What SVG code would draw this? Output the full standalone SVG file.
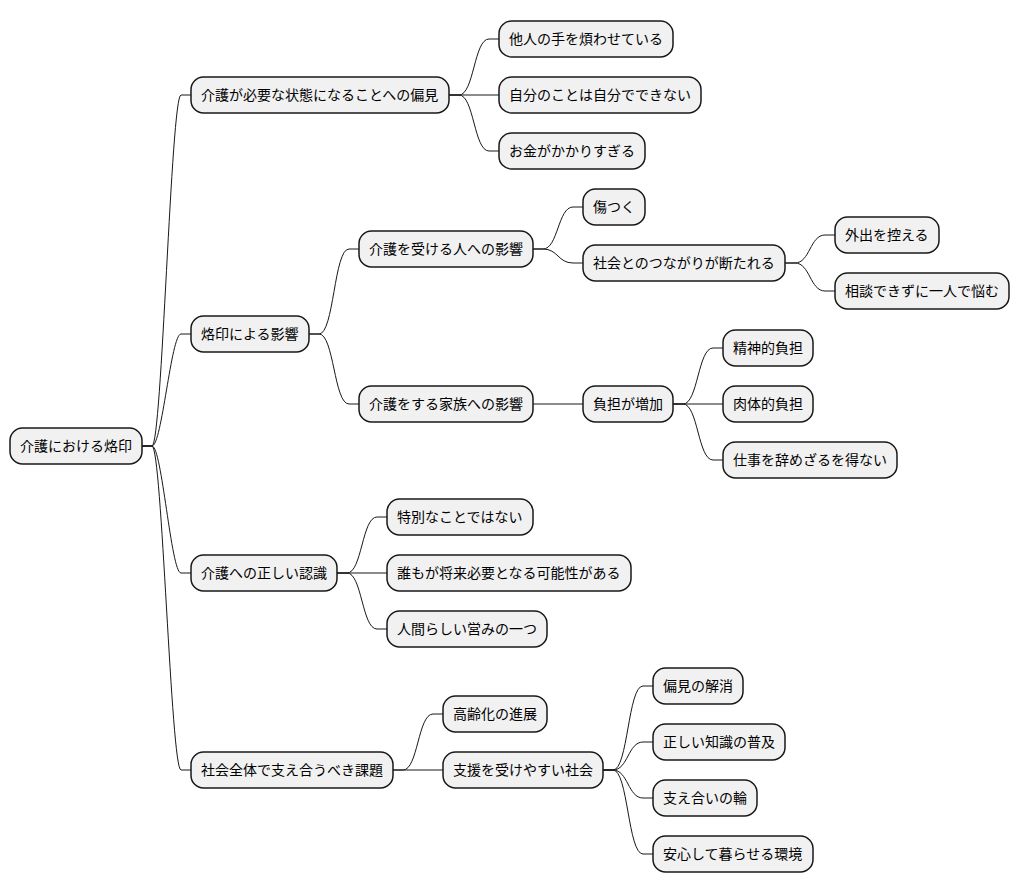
<svg xmlns="http://www.w3.org/2000/svg" width="1020" height="893" viewBox="0 0 1020 893">
<style>
.n rect{fill:#F1F1F1;stroke:#181818;stroke-width:1.5}
.n text{font-family:"Noto Sans CJK JP","Noto Sans",sans-serif;font-size:14px;fill:#000}
#edges path{fill:none;stroke:#181818;stroke-width:1}
</style>
<rect width="1020" height="893" fill="#FFFFFF"/>
<g id="edges">
<path d="M142,446 L152,446 C162,446 171,95 181,95 L191,95"/>
<path d="M142,446 L152,446 C162,446 171,334 181,334 L191,334"/>
<path d="M142,446 L152,446 C162,446 171,573 181,573 L191,573"/>
<path d="M142,446 L152,446 C162,446 171,770 181,770 L191,770"/>
<path d="M449,95 L459,95 C474,95 474,39 489,39 L499,39"/>
<path d="M449,95 L499,95"/>
<path d="M449,95 L459,95 C474,95 474,151 489,151 L499,151"/>
<path d="M309,334 L319,334 C334,334 334,249 349,249 L359,249"/>
<path d="M309,334 L319,334 C334,334 334,404 349,404 L359,404"/>
<path d="M533,249 L543,249 C558,249 558,207 573,207 L583,207"/>
<path d="M533,249 L543,249 C558,249 558,263 573,263 L583,263"/>
<path d="M785,263 L795,263 C810,263 810,235 825,235 L835,235"/>
<path d="M785,263 L795,263 C810,263 810,291 825,291 L835,291"/>
<path d="M533,404 L583,404"/>
<path d="M673,404 L683,404 C698,404 698,348 713,348 L723,348"/>
<path d="M673,404 L723,404"/>
<path d="M673,404 L683,404 C698,404 698,460 713,460 L723,460"/>
<path d="M337,573 L347,573 C362,573 362,517 377,517 L387,517"/>
<path d="M337,573 L387,573"/>
<path d="M337,573 L347,573 C362,573 362,629 377,629 L387,629"/>
<path d="M393,770 L403,770 C418,770 418,714 433,714 L443,714"/>
<path d="M393,770 L443,770"/>
<path d="M603,770 L613,770 C628,770 628,686 643,686 L653,686"/>
<path d="M603,770 L613,770 C628,770 628,742 643,742 L653,742"/>
<path d="M603,770 L613,770 C628,770 628,798 643,798 L653,798"/>
<path d="M603,770 L613,770 C628,770 628,854 643,854 L653,854"/>
</g>
<g id="root" class="n"><rect x="10" y="428" width="132" height="36" rx="12.5"/><text x="20" y="451">介護における烙印</text></g>
<g id="n1" class="n"><rect x="191" y="77" width="258" height="36" rx="12.5"/><text x="201" y="100">介護が必要な状態になることへの偏見</text></g>
<g id="n1a" class="n"><rect x="499" y="21" width="174" height="36" rx="12.5"/><text x="509" y="44">他人の手を煩わせている</text></g>
<g id="n1b" class="n"><rect x="499" y="77" width="202" height="36" rx="12.5"/><text x="509" y="100">自分のことは自分でできない</text></g>
<g id="n1c" class="n"><rect x="499" y="133" width="146" height="36" rx="12.5"/><text x="509" y="156">お金がかかりすぎる</text></g>
<g id="n2" class="n"><rect x="191" y="316" width="118" height="36" rx="12.5"/><text x="201" y="339">烙印による影響</text></g>
<g id="n2a" class="n"><rect x="359" y="231" width="174" height="36" rx="12.5"/><text x="369" y="254">介護を受ける人への影響</text></g>
<g id="n2a1" class="n"><rect x="583" y="189" width="62" height="36" rx="12.5"/><text x="593" y="212">傷つく</text></g>
<g id="n2a2" class="n"><rect x="583" y="245" width="202" height="36" rx="12.5"/><text x="593" y="268">社会とのつながりが断たれる</text></g>
<g id="n2a2a" class="n"><rect x="835" y="217" width="104" height="36" rx="12.5"/><text x="845" y="240">外出を控える</text></g>
<g id="n2a2b" class="n"><rect x="835" y="273" width="174" height="36" rx="12.5"/><text x="845" y="296">相談できずに一人で悩む</text></g>
<g id="n2b" class="n"><rect x="359" y="386" width="174" height="36" rx="12.5"/><text x="369" y="409">介護をする家族への影響</text></g>
<g id="n2b1" class="n"><rect x="583" y="386" width="90" height="36" rx="12.5"/><text x="593" y="409">負担が増加</text></g>
<g id="n2b1a" class="n"><rect x="723" y="330" width="90" height="36" rx="12.5"/><text x="733" y="353">精神的負担</text></g>
<g id="n2b1b" class="n"><rect x="723" y="386" width="90" height="36" rx="12.5"/><text x="733" y="409">肉体的負担</text></g>
<g id="n2b1c" class="n"><rect x="723" y="442" width="174" height="36" rx="12.5"/><text x="733" y="465">仕事を辞めざるを得ない</text></g>
<g id="n3" class="n"><rect x="191" y="555" width="146" height="36" rx="12.5"/><text x="201" y="578">介護への正しい認識</text></g>
<g id="n3a" class="n"><rect x="387" y="499" width="146" height="36" rx="12.5"/><text x="397" y="522">特別なことではない</text></g>
<g id="n3b" class="n"><rect x="387" y="555" width="244" height="36" rx="12.5"/><text x="397" y="578">誰もが将来必要となる可能性がある</text></g>
<g id="n3c" class="n"><rect x="387" y="611" width="160" height="36" rx="12.5"/><text x="397" y="634">人間らしい営みの一つ</text></g>
<g id="n4" class="n"><rect x="191" y="752" width="202" height="36" rx="12.5"/><text x="201" y="775">社会全体で支え合うべき課題</text></g>
<g id="n4a" class="n"><rect x="443" y="696" width="104" height="36" rx="12.5"/><text x="453" y="719">高齢化の進展</text></g>
<g id="n4b" class="n"><rect x="443" y="752" width="160" height="36" rx="12.5"/><text x="453" y="775">支援を受けやすい社会</text></g>
<g id="n4b1" class="n"><rect x="653" y="668" width="90" height="36" rx="12.5"/><text x="663" y="691">偏見の解消</text></g>
<g id="n4b2" class="n"><rect x="653" y="724" width="132" height="36" rx="12.5"/><text x="663" y="747">正しい知識の普及</text></g>
<g id="n4b3" class="n"><rect x="653" y="780" width="104" height="36" rx="12.5"/><text x="663" y="803">支え合いの輪</text></g>
<g id="n4b4" class="n"><rect x="653" y="836" width="160" height="36" rx="12.5"/><text x="663" y="859">安心して暮らせる環境</text></g>
</svg>
